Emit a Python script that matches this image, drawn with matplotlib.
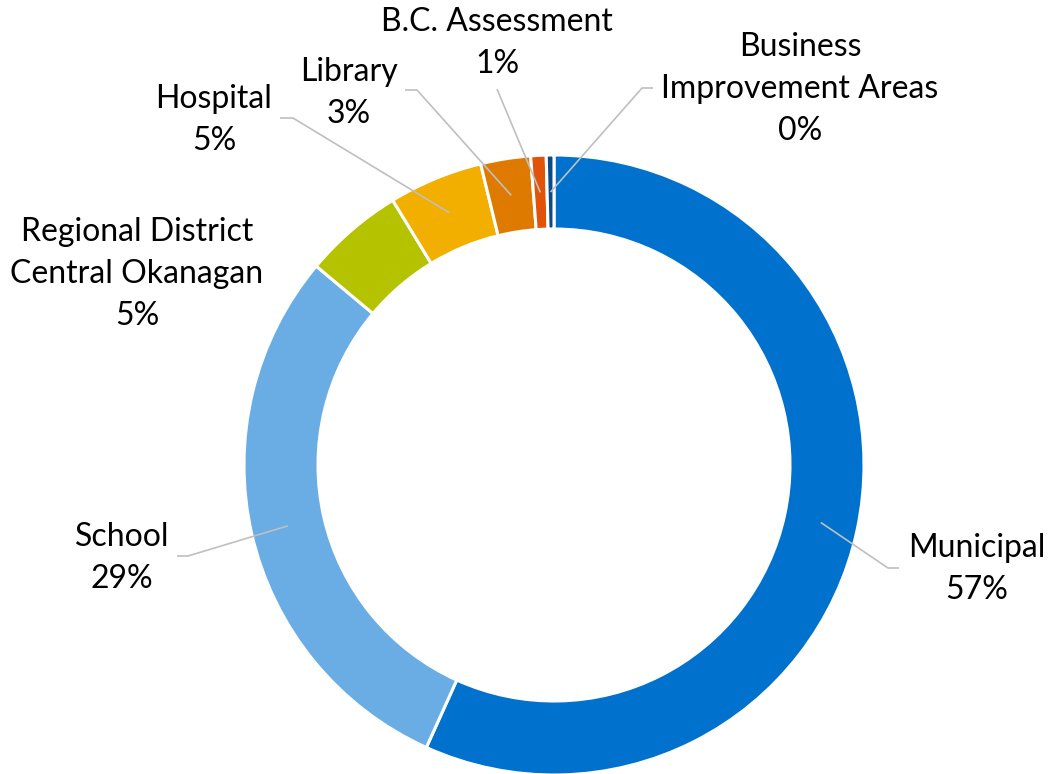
import numpy as np
import matplotlib
matplotlib.use("Agg")
import matplotlib.pyplot as plt

# ---- data ----
categories = ["Municipal", "School", "Regional District\nCentral Okanagan",
              "Hospital", "Library", "B.C. Assessment",
              "Business\nImprovement Areas"]
values = [56.7, 29.3, 5.2, 4.9, 2.6, 0.8, 0.4]
colors = ["#0072CE", "#6AADE4", "#B5C200", "#F2AF00", "#DF7A00", "#E2530A", "#0B4A88"]

# ---- layout (pixel coordinates of the 1049x774 canvas, y downwards) ----
W, H = 1049, 774
center_px = (554, 465)
R_out, ring_w = 310, 74
label_pos = [(977, 569), (122, 558), (137, 274), (214, 120), (349, 93), (497, 43), (800, 89)]
leader_start = [[(899, 568), (888, 568)],
                [(177, 556), (188, 556)],
                None,
                [(280, 118), (293, 118)],
                [(405, 90), (417, 90)],
                [(497, 89)],
                [(653, 88), (642, 88)]]

def Y(y):
    return H - y

plt.rcParams['font.family'] = ['Lato', 'DejaVu Sans']
fig = plt.figure(figsize=(W / 100, H / 100), dpi=100)
ax = fig.add_axes([0, 0, 1, 1])

cx, cy = center_px[0], Y(center_px[1])
wedges, _ = ax.pie(values, colors=colors, startangle=90, counterclock=False,
                   radius=R_out, center=(cx, cy),
                   wedgeprops=dict(width=ring_w, edgecolor="white", linewidth=2.2))
ax.set_xlim(0, W)
ax.set_ylim(0, H)
ax.set_aspect('equal')
ax.axis('off')

total = sum(values)
r_mid = R_out - ring_w / 2
for i, (w, lab) in enumerate(zip(wedges, categories)):
    pct = round(values[i] / total * 100)
    lx, ly = label_pos[i]
    ax.text(lx, Y(ly), f"{lab}\n{pct}%", ha='center', va='center',
            multialignment='center', fontsize=23, color='black', linespacing=1.5)
    if leader_start[i] is not None:
        ang = np.deg2rad((w.theta1 + w.theta2) / 2)
        ax_, ay_ = cx + r_mid * np.cos(ang), cy + r_mid * np.sin(ang)
        xs = [p[0] for p in leader_start[i]] + [ax_]
        ys = [Y(p[1]) for p in leader_start[i]] + [ay_]
        ax.plot(xs, ys, color="#BFBFBF", lw=1.2, solid_capstyle='butt', zorder=5)

fig.savefig("out.png", dpi=100)
